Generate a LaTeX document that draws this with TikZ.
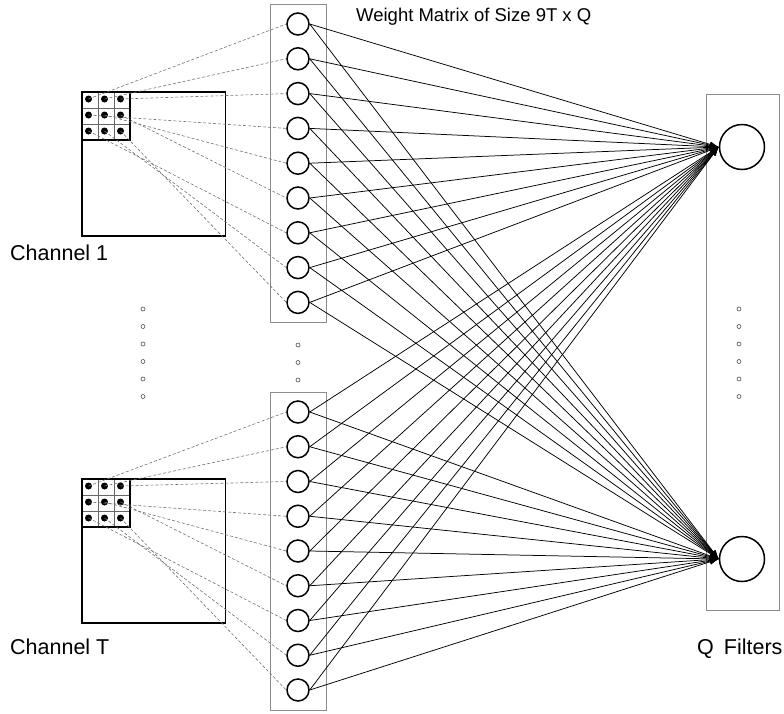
\documentclass[tikz,border=0pt]{standalone}
\usepackage{fontspec}
\setmainfont{Liberation Sans}
\usetikzlibrary{arrows.meta}
\begin{document}
\begin{tikzpicture}[x=1pt,y=-1pt,
  neuron/.style={circle,draw,line width=1.5pt,minimum size=22pt,inner sep=0pt},
  filter/.style={circle,draw,line width=1.5pt,minimum size=45pt,inner sep=0pt},
  pix/.style={circle,fill,inner sep=0pt,minimum size=7pt},
  frame/.style={draw=black!45,line width=0.8pt},
  tap/.style={draw=black!55,line width=0.6pt,dash pattern=on 3pt off 2pt},
  wire/.style={line width=0.75pt,-{Latex[length=9pt,width=6pt]}},
  ell/.style={circle,draw=black!70,line width=0.6pt,inner sep=0pt,minimum size=4pt},
  lbl/.style={font=\fontsize{21.5}{25}\selectfont,anchor=base west,inner sep=0pt}]
\useasboundingbox (0,0) rectangle (784,713);

% frames around the neuron columns and the filters
\draw[frame] (270.5,4.5) rectangle (326,322);
\draw[frame] (270.5,392.5) rectangle (326,710);
\draw[frame] (706,94) rectangle (779,610);

% input channels with their 3x3 receptive field
\foreach \c/\y in {a/92,b/479} {
  \draw[line width=1.3pt] (82,\y) rectangle (225.5,\y+144);
  \draw[black!60,line width=0.5pt] (98,\y) -- (98,\y+48) (114,\y) -- (114,\y+48)
        (82,\y+16) -- (130,\y+16) (82,\y+32) -- (130,\y+32);
  \draw[line width=1.3pt] (82,\y) rectangle (130,\y+48);
  \foreach \r in {0,1,2} \foreach \col in {0,1,2}
    \node[pix] (\c d\r\col) at ({88.5+16*\col},{\y+7+16*\r}) {};
}

% weight neurons
\foreach \k in {1,...,9} {
  \node[neuron] (a\k) at (298,{24+34.8*(\k-1)}) {};
  \node[neuron] (b\k) at (298,{412+34.75*(\k-1)}) {};
}

% output filters
\node[filter] (f1) at (742,147) {};
\node[filter] (f2) at (742,559) {};

% pixel-to-weight taps
\foreach \c in {a,b} \foreach \r in {0,1,2} \foreach \col in {0,1,2} {
  \pgfmathtruncatemacro\k{3*\r+\col+1}
  \draw[tap] (\c d\r\col.center) -- (\c\k.west);
}

% weight-to-filter connections
\foreach \c in {a,b} \foreach \k in {1,...,9} \foreach \f in {f1,f2}
  \draw[wire] (\c\k.east) -- (\f.west);

% ellipses
\foreach \y [count=\i] in {309,326.5,344,361.5,379,396.5} {
  \node[ell] (le\i) at (143,\y) {};
  \node[ell] (re\i) at (739,\y) {};
}
\foreach \y [count=\i] in {345,362.5,380}
  \node[ell] (me\i) at (298,\y) {};

% labels
\node[lbl] (ch1) at (10,260) {Channel 1};
\node[lbl] (chT) at (10,654.3) {Channel T};
\node[lbl] (qf) at (697,654.3) {Q\hspace{4pt} Filters};
\node[font=\fontsize{18.5}{22}\selectfont,anchor=base west,inner sep=0pt] (title) at (356,21) {Weight Matrix of Size 9T x Q};
\end{tikzpicture}
\end{document}
